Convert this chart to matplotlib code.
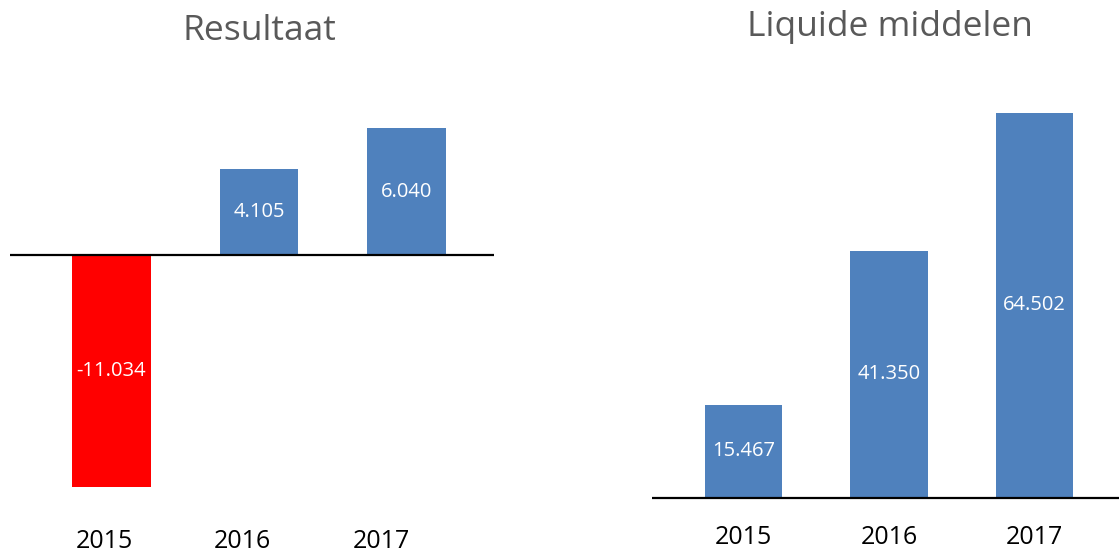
import matplotlib
matplotlib.use('Agg')
import matplotlib.pyplot as plt
from matplotlib.transforms import blended_transform_factory

# ---------- Data ----------
YEARS = ['2015', '2016', '2017']
RESULTAAT = [-11.034, 4.105, 6.040]
LIQUIDE = [15.467, 41.350, 64.502]
RESULTAAT_LABELS = ['-11.034', '4.105', '6.040']
LIQUIDE_LABELS = ['15.467', '41.350', '64.502']

BLUE = '#4F81BD'
RED = '#FF0000'
TITLE_GREY = '#595959'
FONT = ['Open Sans', 'DejaVu Sans']

W, H = 1119, 554
fig = plt.figure(figsize=(W / 100, H / 100), dpi=100)


def make_axes(left, top, width, height, base_y, px_per_unit, x0, px_per_bar):
    """Axes from a pixel box; data limits chosen so the baseline/scale land right."""
    ax = fig.add_axes([left / W, 1 - (top + height) / H, width / W, height / H])
    ax.set_ylim(-(top + height - base_y) / px_per_unit, (base_y - top) / px_per_unit)
    ax.set_xlim((left - x0) / px_per_bar, (left + width - x0) / px_per_bar)
    ax.axis('off')
    return ax


def draw_panel(ax, values, labels, colors, title, title_xy, year_x, year_y):
    xs = list(range(len(values)))
    ax.bar(xs, values, width=0.53, color=colors, zorder=2)
    ax.axhline(0, color='black', linewidth=1.6, zorder=3)
    for x, v, lab in zip(xs, values, labels):
        ax.text(x, v / 2, lab, ha='center', va='center', color='white',
                fontsize=14.5, family=FONT, zorder=4)
    tr = blended_transform_factory(ax.transData, fig.transFigure)
    for x, yr in zip(year_x, YEARS):
        ax.text(x, 1 - year_y / H, yr, transform=tr, ha='center', va='center',
                fontsize=18, family=FONT, color='black', clip_on=False)
    fig.text(title_xy[0] / W, 1 - title_xy[1] / H, title, ha='center', va='center',
             fontsize=25.5, family=FONT, color=TITLE_GREY)


ax1 = make_axes(10, 100, 484, 400, 255, 21.0, 111.5, 147.5)
draw_panel(ax1, RESULTAAT, RESULTAAT_LABELS,
           [RED if v < 0 else BLUE for v in RESULTAAT],
           'Resultaat', (259, 31), [-0.05, 0.89, 1.83], 542)

ax2 = make_axes(652, 100, 467, 420, 497.5, 5.96, 743.5, 145.5)
draw_panel(ax2, LIQUIDE, LIQUIDE_LABELS, [BLUE] * 3,
           'Liquide middelen', (890, 27), [0, 1, 2], 537)

fig.savefig('out.png', dpi=100)
